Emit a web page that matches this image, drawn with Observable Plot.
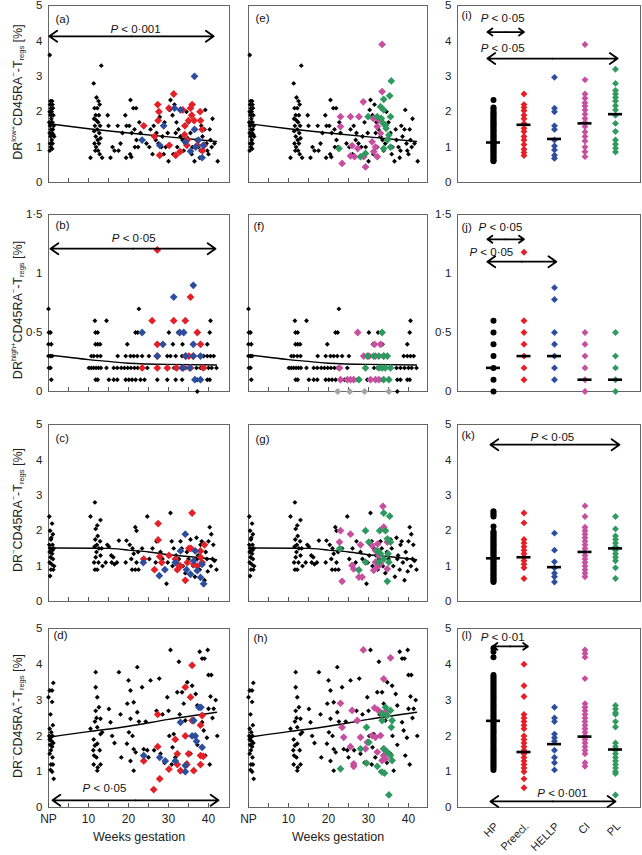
<!DOCTYPE html>
<html><head><meta charset="utf-8">
<script src="https://cdn.jsdelivr.net/npm/d3@7"></script>
<script src="https://cdn.jsdelivr.net/npm/@observablehq/plot@0.6"></script>
<style>
body{margin:0;background:#fff;font-family:"Liberation Sans",Arial,sans-serif;}
#root{position:relative;width:642px;height:855px;overflow:hidden;background:#fff;}
.ylab{position:absolute;white-space:nowrap;font-size:12.5px;color:#222;transform:translate(-50%,-50%) rotate(-90deg);}
.ylab sup{font-size:0.6em;vertical-align:0.75em;line-height:0;}
.ylab sub{font-size:0.6em;vertical-align:-0.3em;line-height:0;}
</style></head><body><div id="root"></div>
<script>
// ---------- scatter data: [week, value]  (NP plotted at week 0–1.5) ----------
const hpA = [[0.3,3.6],[0.5,2.3],[0.9,2.3],[0.4,2.2],[1.0,2.2],[0.6,2.1],[1.1,2.1],[0.3,2.0],[0.8,2.0],[0.5,1.9],[1.2,1.9],[0.2,1.7],[0.7,1.7],[1.0,1.7],[0.4,1.6],[1.3,1.6],[0.6,1.5],[1.1,1.5],[0.3,1.4],[0.9,1.4],[1.4,1.3],[0.5,1.3],[0.8,1.2],[0.4,1.1],[1.0,1.1],[0.6,1.0],[0.3,0.9],[0.9,0.95],[0.7,1.8],[1.2,1.35],
[11.3,2.8],[13.2,3.3],[12,2.4],[12.5,2.3],[12.8,2.2],[11.5,2.1],[12.2,2.1],[11.8,1.9],[12.6,1.9],[11.4,1.8],[12.0,1.75],[12.4,1.7],[11.6,1.6],[12.9,1.6],[12.2,1.5],[11.4,1.45],[12.7,1.4],[11.8,1.3],[12.3,1.2],[11.5,1.1],[12.6,1.1],[11.9,1.0],[12.4,0.9],[12.8,0.8],[10.5,0.7],[13.4,0.7],[11.7,0.9],[13.0,1.25],
[14.8,1.9],[15.5,0.7],[16,1.0],[16.5,0.9],[17.5,0.9],[17.3,1.6],[18.5,1.4],[19.2,1.9],[19.5,1.6],[19.4,0.7],[18.0,1.1],[15.0,1.6],
[20.5,2.33],[21.2,2.1],[21.9,2.1],[20.2,1.6],[21.5,1.5],[20.8,1.4],[22.0,1.2],[21.6,1.0],[20.4,0.8],[20.7,0.72],[22.4,1.0],[23.0,1.4],[22.7,1.7],
[25.5,1.5],[26.3,1.6],[27,1.4],[27.8,1.85],[26.8,1.2],[25.2,1.0],[28.2,1.0],[29.3,1.0],[26.0,0.8],[28.8,0.8],[30.0,0.6],[29.8,1.4],[30.3,2.05],[30.5,2.33],[28.5,1.3],[24.5,1.1],[29.0,1.7],[27.5,1.1],
[31.5,2.2],[31,1.9],[32,1.7],[32.5,1.5],[31.8,1.4],[33,1.3],[33.5,1.2],[32.2,1.0],[31.2,0.8],[33.8,0.9],[34.5,2.0],[35,1.7],[35.5,1.4],[34.2,1.1],[36,1.0],[35.8,0.8],[36.5,0.6],[37,1.2],[37.5,1.0],[38,0.9],[38.5,1.3],[39.2,2.05],[39,1.5],[39.5,1.1],[40,0.8],[40.3,1.5],[40.5,1.2],[41,1.8],[41.5,1.1],[42.3,0.6],[40.8,1.0],[38.2,1.6],[37.8,0.7],[39.7,0.9],[36.8,1.5],[34.8,1.25]];
const preA = [[23.8,1.6],[26.5,1.3],[27.3,2.2],[27.6,2.0],[27.4,1.75],[27.8,0.77],[30.1,2.1],[30.2,1.05],[31.3,2.5],[31.8,0.77],[32.9,0.87],[33.6,2.05],[34.1,1.6],[34.0,1.35],[34.6,1.05],[35.0,1.75],[35.5,2.1],[35.9,2.2],[35.8,1.9],[36.4,1.75],[37.2,1.05],[37.9,2.0],[38.0,1.75],[38.4,1.5],[38.5,0.9],[38.9,1.05],[34.7,1.2]];
const hellpA = [[23.4,1.2],[27.8,1.05],[28.8,1.6],[31.5,2.1],[33.0,2.05],[34.2,1.15],[36.5,3.0],[36.5,1.5],[35.5,0.88],[36.8,1.0],[38.4,0.7],[38.7,1.05],[37.5,1.2]];
const ciE = [[33.4,3.9],[33.4,2.57],[28.7,2.28],[23,1.86],[25.5,1.86],[27.6,1.86],[23,1.58],[31.2,1.81],[32.2,1.58],[33,1.39],[30.9,1.15],[25.9,1.04],[27.3,0.96],[31.75,1.0],[31.3,0.87],[32.2,0.73],[25.5,0.75],[26.5,0.73],[29.25,0.44],[23.4,0.54],[28.8,0.73],[32.6,1.76]];
const plE = [[35.7,2.87],[35.3,2.45],[33.8,2.35],[33,2.14],[33.8,2.05],[29.9,1.86],[32.2,1.86],[35.5,1.86],[33.7,1.67],[34.25,1.62],[34.4,1.53],[35.1,1.34],[34.7,1.2],[33.8,0.96],[35.5,1.0],[22.6,0.96],[29.25,0.82],[28,0.73],[33.2,1.81]];
const trendA = [[0,1.66],[10,1.52],[20,1.4],[30,1.29],[42,1.16]];

const hpB = [[0,0.7],[22.6,0.7],[11.6,0.6],[14.5,0.6],[40.5,0.6],
[0.1,0.5],[0.5,0.5],[11.75,0.5],[12.3,0.5],[21.75,0.5],[22.3,0.5],[40.3,0.5],[30.1,0.5],[32.4,0.5],
[0.0,0.4],[0.7,0.4],[11.75,0.4],[12.3,0.4],[12.9,0.4],[19.7,0.4],[39.7,0.4],[31.1,0.4],[33.5,0.4],
[0,0.3],[0.5,0.3],[0.9,0.3],[10.7,0.3],[11.3,0.3],[12.2,0.3],[13,0.3],[17.3,0.3],[19.3,0.3],[20.5,0.3],[21.3,0.3],[22.2,0.3],[23.4,0.3],[25.1,0.3],[29.7,0.3],[30.5,0.3],[31.8,0.3],[33.4,0.3],[38.8,0.3],[39.7,0.3],[40.5,0.3],[41.3,0.3],
[0.1,0.2],[0.5,0.2],[10.1,0.2],[10.7,0.2],[11.3,0.2],[11.9,0.2],[12.5,0.2],[13.1,0.2],[14.5,0.2],[16.3,0.2],[17.2,0.2],[18.2,0.2],[19.0,0.2],[19.8,0.2],[20.6,0.2],[21.5,0.2],[22.3,0.2],[24.7,0.2],[31.4,0.2],[32.2,0.2],[33.4,0.2],[34.3,0.2],[37.0,0.2],[38.0,0.2],[39.0,0.2],[40.0,0.2],[40.8,0.2],[42.0,0.2],
[0.7,0.1],[11.8,0.1],[12.3,0.1],[15.1,0.1],[16.3,0.1],[17.2,0.1],[19.3,0.1],[20.1,0.1],[20.9,0.1],[21.8,0.1],[23.0,0.1],[24.0,0.1],[27.2,0.1],[29.7,0.1],[31.8,0.1],[33.4,0.1],[37.2,0.1],[38.0,0.1],[39.7,0.1],[40.3,0.1],
[37.2,0]];
const preB = [[27.2,1.2],[35.5,0.8],[25.9,0.6],[31.3,0.6],[34.2,0.6],[37.2,0.5],[27.2,0.4],[38,0.4],[27.2,0.3],[34.3,0.3],[35.1,0.3],[36.2,0.3],[23.4,0.2],[27.2,0.2],[29.7,0.2],[32,0.2],[33.7,0.2],[35.5,0.2],[38.7,0.2]];
const hellpB = [[36.2,0.9],[31.3,0.8],[23.4,0.5],[32.8,0.5],[33.8,0.5],[28.6,0.4],[36.2,0.4],[27.2,0.3],[34.3,0.3],[36.2,0.3],[38,0.3],[33.4,0.2],[35.3,0.2],[36.6,0.1],[38,0.1]];
const ciF = [[27.3,0.5],[31.5,0.4],[33.0,0.4],[28.8,0.3],[30.1,0.3],[31.75,0.3],[33.8,0.3],[22.75,0.2],[23,0.1],[24.7,0.1],[25.5,0.1],[26.3,0.1],[30.5,0.1],[31.75,0.1],[32.6,0.1]];
const plF = [[33.4,0.5],[29.7,0.3],[31.3,0.3],[32.6,0.3],[33.8,0.3],[34.7,0.3],[29.25,0.2],[32.6,0.2],[33.4,0.2],[34.2,0.2],[35.5,0.2],[27.6,0.1],[33.8,0.1],[35.1,0.1]];
const greyF = [[22.3,0],[25.3,0],[29,0],[35.1,0]];
const trendB = [[0,0.31],[5,0.29],[10,0.27],[15,0.255],[20,0.24],[30,0.23],[42,0.225]];

const hpC = [[0.2,2.4],[0.9,2.2],[0.4,2.0],[1.1,1.9],[0.6,1.75],[0.2,1.6],[1.0,1.6],[0.5,1.5],[1.3,1.5],[0.3,1.4],[0.9,1.35],[0.5,1.25],[1.1,1.2],[0.3,1.1],[0.8,1.05],[1.4,1.0],[0.6,0.9],[1.2,0.9],[0.4,0.72],[0.7,1.8],[1.0,1.45],
[11.6,2.8],[10.5,2.4],[13,2.3],[12.2,2.15],[11.8,2.05],[12.3,1.85],[11.7,1.75],[12.9,1.7],[12.1,1.6],[11.5,1.55],[12.6,1.5],[12.0,1.4],[13.0,1.3],[11.8,1.25],[12.5,1.1],[11.4,1.1],[11.6,0.9],[12.2,0.9],[13.5,1.0],[14.3,1.1],[14.7,1.6],[13.3,1.5],[15.7,1.3],[16.5,1.05],
[17.6,1.72],[15.1,1.55],[16.2,1.25],[15.8,1.1],[17.1,1.1],[19.5,1.72],[21.7,2.1],[22.0,2.0],[20.3,1.6],[21.0,1.5],[22.4,1.4],[21.3,1.35],[20.7,1.2],[22.0,1.1],[20.9,0.9],[21.7,0.9],[22.5,0.9],[19.3,1.1],[24.7,2.4],[23.4,1.5],[25.2,1.2],
[30.5,2.5],[26.0,1.5],[27.0,1.7],[28.0,1.4],[28.5,1.2],[29.5,0.5],[29.8,1.1],[30.8,1.7],[31.3,1.5],[31.9,1.3],[32.3,0.9],[32.6,1.2],[33.3,1.5],[33.6,1.0],[34.2,0.8],[34.6,1.4],[35.0,1.2],[35.8,1.5],[36.2,1.0],[36.6,0.7],[37.0,1.8],[37.4,1.3],[37.8,0.9],[38.3,1.7],[38.6,1.1],[39.0,0.6],[39.3,1.4],[39.6,1.2],[40.0,1.7],[40.3,2.1],[40.6,1.0],[41.0,1.2],[41.5,1.15],[42.0,0.9],[39.8,0.85],[38.0,1.6],[37.2,1.2],[35.5,1.75],[33.0,1.7],[31.0,1.0],[30.2,1.3],[26.8,1.1],[40.7,1.9],[41.2,1.6]];
const preC = [[23.8,1.2],[26.5,0.9],[27.4,2.2],[27.4,1.74],[27.8,1.27],[30.1,1.3],[31.7,1.2],[32.2,0.9],[33.0,1.0],[34.2,0.6],[35.1,1.5],[35.6,1.5],[35.9,2.5],[34.7,1.1],[36.3,1.05],[37.2,1.0],[38.0,1.25],[38.4,1.1],[39.0,1.6],[38.0,1.43],[32.4,1.05],[28.3,1.1]];
const hellpC = [[23.7,1.1],[27.7,0.73],[29.1,0.9],[31.7,1.1],[33.0,1.43],[34.2,1.9],[34.5,0.9],[35.5,0.77],[36.7,1.43],[37.2,0.87],[38.0,0.68],[38.8,0.5],[36.3,1.15],[38.4,1.05]];
const ciG = [[33.6,2.69],[23,2.0],[25.5,1.9],[22.75,1.68],[28,1.6],[30.9,1.58],[32.3,1.63],[33.8,2.1],[34.7,1.68],[31.75,1.44],[32.6,1.3],[25.9,1.02],[26.3,0.92],[27.6,0.69],[28.4,0.69],[23.4,0.57],[31.75,1.11],[32.2,0.97],[33,1.06],[31.3,0.88],[34.7,0.92]];
const plG = [[33.8,2.5],[35.3,2.41],[29.25,2.0],[32.8,2.0],[34.25,2.0],[34.7,1.77],[35.5,1.68],[30.1,1.68],[22.8,1.49],[32.2,1.44],[33,1.35],[34.9,1.35],[29.25,1.11],[32.6,1.11],[35.1,1.11],[27.6,0.89],[34.7,0.57],[33.8,1.2]];
const trendC = [[0,1.51],[15,1.5],[20,1.45],[25,1.4],[30,1.32],[35,1.27],[42,1.18]];

const hpD = [[0,3.08],[0.3,3.27],[0.9,3.27],[1.2,3.48],[0.5,2.6],[0.9,2.95],[1.1,2.3],[0.3,2.2],[0.7,2.1],[0.2,2.0],[1.0,2.0],[0.5,1.95],[0.3,1.9],[0.8,1.85],[1.2,1.8],[0.4,1.75],[0.9,1.7],[0.6,1.6],[0.3,1.5],[1.0,1.4],[0.6,1.2],[1.1,1.2],[0.9,1.0],[1.3,0.8],[0.5,1.05],
[10.5,2.2],[11.8,3.78],[11.8,3.36],[12.2,3.08],[12.6,2.8],[11.8,2.7],[12.0,2.5],[11.6,2.4],[13.0,2.48],[12.2,2.24],[11.3,1.9],[11.6,1.73],[12.2,1.78],[11.2,1.6],[12.0,1.4],[11.3,1.2],[12.3,1.12],[12.2,1.03],[13.0,1.2],[11.4,1.45],[12.8,1.6],[13.0,2.05],[15.1,2.75],[15.5,2.38],[17.6,3.78],[15.9,2.0],[13.4,2.1],[16.5,1.8],[18,2.6],[18.2,1.4],
[20.0,3.55],[20.5,3.27],[21.3,2.94],[22.2,3.92],[19.7,2.9],[20.5,2.48],[20.1,2.1],[21.0,2.0],[19.6,1.78],[21.3,1.63],[21.8,1.54],[20.5,1.3],[21.3,1.03],[22.2,2.66],[22.6,2.4],[23.4,3.36],[23.8,1.63],[24.7,1.6],[25.5,3.55],[25.0,1.4],[26.4,1.6],[27.7,3.6],[28.5,2.6],[29.7,3.08],[30.5,4.4],[28.0,1.5],[29.0,1.25],[30.2,2.0],[27.0,2.7],[24.3,2.4],
[32.6,4.07],[32.2,3.22],[31.3,2.05],[31.0,1.68],[33.4,3.22],[33.8,2.9],[34.2,2.43],[34.7,3.5],[35.9,3.4],[36.8,3.17],[37.2,2.85],[37.8,4.35],[38.4,4.16],[39.0,4.16],[39.8,4.4],[40.0,3.7],[40.7,3.7],[40.5,3.1],[40.0,2.76],[41.3,2.76],[41.8,3.0],[42.2,2.0],[38.4,2.38],[38.8,2.15],[39.6,1.95],[37.2,1.75],[35.5,1.5],[34.6,1.25],[36.3,1.03],[33.0,1.0],[31.7,1.4],[30.8,1.2],[39.2,1.45],[40.3,1.2],[41.0,2.5],[36.0,2.0],[32.8,2.6],[30.0,2.7]];
const preD = [[26.3,0.5],[27.3,2.6],[27.3,1.7],[27.8,0.8],[23.8,1.3],[30.1,1.07],[31.7,1.9],[32.2,1.5],[32.2,1.2],[33.0,1.03],[34.2,3.36],[34.2,2.0],[35.0,1.5],[35.5,3.08],[35.9,3.97],[35.9,2.43],[38.0,1.2],[38.0,1.45],[38.7,1.43],[38.4,2.57],[38.0,2.3],[36.3,1.03],[34.6,1.2]];
const hellpD = [[23.8,1.45],[27.8,1.4],[29.2,1.3],[31.7,1.3],[33.0,2.38],[34.2,1.17],[34.2,1.0],[36.3,2.43],[36.7,2.0],[37.6,2.8],[38.1,2.8],[38.4,1.68],[35.9,2.0],[37.0,1.85]];
const ciH = [[28.7,4.4],[35.5,4.18],[33.8,3.59],[23,2.91],[25.9,2.71],[27.2,2.43],[31.5,2.78],[32.3,2.73],[33,2.66],[34.4,2.69],[23.4,2.24],[23.8,1.96],[28,1.96],[30.9,2.01],[31.75,1.96],[33,2.01],[29.7,1.82],[25.5,1.7],[29.25,1.64],[32.2,1.55],[33.8,1.64],[33.8,1.45],[34.25,1.36],[26.3,1.22],[26.3,1.15],[33.4,1.31]];
const plH = [[34.25,2.8],[35.5,2.71],[33.4,2.62],[34.7,2.57],[33.4,2.43],[35.9,2.43],[29.5,2.24],[35.7,2.24],[30.1,1.82],[28,1.64],[33.8,1.64],[34.7,1.55],[35.5,1.45],[35.9,1.31],[29.5,1.24],[32.2,1.15],[23,1.08],[33.4,0.99],[34,0.96],[35.1,0.35]];
const trendD = [[0,1.96],[10,2.12],[20,2.27],[30,2.46],[42,2.66]];

// ---------- group data (column 3) ----------
const groups = ["HP","Preecl.","HELLP","CI","PL"];
const iHP = [2.33,2.12,2.08,2.03,1.98,1.95,1.9,1.86,1.82,1.78,1.74,1.7,1.67,1.63,1.6,1.56,1.52,1.48,1.45,1.41,1.37,1.33,1.3,1.26,1.22,1.18,1.15,1.12,1.08,1.05,1.01,0.98,0.94,0.9,0.86,0.83,0.79,0.75,0.71,0.67,0.63,0.6];
const iPre = [2.5,2.2,2.12,2.03,1.9,1.8,1.67,1.53,1.44,1.3,1.2,1.07,0.94,0.85,0.76];
const iHELLP = [2.97,2.1,2.0,1.6,1.5,1.2,1.03,0.92,0.77,0.68];
const iCI = [3.9,2.9,2.5,2.38,2.25,2.16,2.05,1.93,1.81,1.7,1.58,1.43,1.3,1.17,1.0,0.87,0.73];
const iPL = [3.2,2.8,2.6,2.5,2.4,2.3,2.17,2.05,1.9,1.67,1.44,1.2,1.08,0.97,0.86];
const iMedian = [1.13,1.63,1.23,1.67,1.93];

const jHP = [0.6,0.5,0.4,0.3,0.2,0.1,0.0];
const jPre = [1.18,0.6,0.5,0.4,0.3,0.2,0.1];
const jHELLP = [0.88,0.78,0.5,0.4,0.3,0.2,0.1];
const jCI = [0.5,0.4,0.3,0.2,0.1,0.0];
const jPL = [0.5,0.3,0.2,0.1,0.0];
const jMedian = [0.2,0.3,0.3,0.1,0.1];

const kHP = [2.55,2.5,2.45,2.4,2.12,1.98,1.94,1.9,1.86,1.82,1.78,1.74,1.7,1.66,1.62,1.58,1.54,1.5,1.46,1.42,1.38,1.34,1.3,1.26,1.22,1.18,1.14,1.1,1.06,1.02,0.98,0.94,0.9,0.86,0.82,0.78,0.74,0.7,0.66,0.62,0.58,0.55];
const kPre = [2.5,2.22,1.75,1.65,1.55,1.45,1.35,1.25,1.15,1.05,0.95,0.65];
const kHELLP = [1.93,1.45,1.12,0.95,0.8,0.7,0.55];
const kCI = [2.7,2.4,2.1,2.0,1.9,1.8,1.7,1.6,1.5,1.4,1.3,1.2,1.1,1.0,0.9,0.8,0.7];
const kPL = [2.4,2.05,1.85,1.75,1.65,1.55,1.45,1.35,1.25,1.15,0.95,0.65];
const kMedian = [1.22,1.25,0.97,1.4,1.5];

const lHP = [4.45,4.35,4.2,3.7,3.65,3.6,3.55,3.5,3.45,3.4,3.35,3.3,3.25,3.2,3.15,3.1,3.05,3.0,2.95,2.9,2.85,2.8,2.75,2.7,2.65,2.6,2.55,2.5,2.45,2.4,2.35,2.3,2.25,2.2,2.15,2.1,2.05,2.0,1.95,1.9,1.85,1.8,1.75,1.7,1.65,1.6,1.55,1.5,1.45,1.4,1.35,1.3,1.25,1.2,1.15,1.1,1.05];
const lPre = [4.0,3.4,3.1,2.6,2.5,2.4,2.3,2.2,2.0,1.9,1.8,1.7,1.6,1.5,1.4,1.3,1.2,1.1,1.0,0.8,0.55];
const lHELLP = [2.8,2.5,2.4,2.05,1.95,1.85,1.6,1.4,1.25,1.05];
const lCI = [4.4,4.3,4.2,3.6,2.9,2.8,2.7,2.6,2.5,2.4,2.3,2.2,2.1,2.0,1.9,1.8,1.7,1.6,1.5,1.25,1.15];
const lPL = [2.85,2.75,2.65,2.6,2.4,2.25,1.8,1.7,1.6,1.5,1.4,1.3,1.2,1.1,1.0,0.95,0.35];
const lMedian = [2.42,1.55,1.77,1.98,1.62];

// ---------- significance brackets ----------
const arrowsA = [{x1:0.2,x2:41.3,y:4.13,tx:21.75,ty:4.33,t:"P < 0·001"}];
const arrowsB = [{x1:0.5,x2:41.75,y:1.21,tx:21.3,ty:1.30,t:"P < 0·05"}];
const arrowsD = [{x1:1,x2:42.5,y:0.2,tx:14,ty:0.53,t:"P < 0·05"}];
const arrowsI = [{x1:0.8,x2:2.0,y:4.25,tx:1.3,ty:4.64,t:"P < 0·05"},{x1:0.8,x2:5.07,y:3.5,tx:1.3,ty:3.8,t:"P < 0·05"}];
const arrowsJ = [{x1:0.8,x2:2.0,y:1.29,tx:1.23,ty:1.39,t:"P < 0·05"},{x1:0.8,x2:3.06,y:1.10,tx:0.93,ty:1.18,t:"P < 0·05"}];
const arrowsK = [{x1:0.9,x2:5.13,y:4.43,tx:2.93,ty:4.63,t:"P < 0·05"}];
const arrowsL = [{x1:0.97,x2:2.13,y:4.5,tx:1.3,ty:4.76,t:"P < 0·01"},{x1:0.9,x2:5.0,y:0.17,tx:3.26,ty:0.4,t:"P < 0·001"}];

const weekTicks = [0,5,10,15,20,25,30,35,40];
const weekLabels = [{v:0,t:"NP"},{v:10,t:"10"},{v:20,t:"20"},{v:30,t:"30"},{v:40,t:"40"}];

// ---------- layout ----------
const FONT = '"Liberation Sans", Arial, sans-serif';
const RED="#e51f27", BLUE="#2d4e9c", PINK="#c74f9f", GREEN="#2f9a5f", GREY="#a3a3a3";
const groupColors = ["black",RED,BLUE,PINK,GREEN];
const cols = [{l:48,r:229,dom:[0,45.25]},{l:248,r:427,dom:[0,44.75]},{l:457,r:640,dom:[-0.18,5.82]}];
const rows = [{t:5,b:182,ymax:5,ticks:[0,1,2,3,4,5]},{t:214,b:391,ymax:1.5,ticks:[0,0.5,1,1.5]},{t:424,b:601,ymax:5,ticks:[0,1,2,3,4,5]},{t:628,b:807,ymax:5,ticks:[0,1,2,3,4,5]}];
const fmt = d => String(d).replace(".", "·");
const root = document.getElementById("root");

function arrowMarks(arr){
  return [
    Plot.arrow(arr,{x1:d=>(d.x1+d.x2)/2,x2:d=>d.x1,y1:"y",y2:"y",stroke:"black",strokeWidth:1.8,headLength:8,headAngle:70}),
    Plot.arrow(arr,{x1:d=>(d.x1+d.x2)/2,x2:d=>d.x2,y1:"y",y2:"y",stroke:"black",strokeWidth:1.8,headLength:8,headAngle:70}),
    Plot.text(arr,{x:"tx",y:"ty",text:"t",fontSize:11.5,fill:"#111"})
  ];
}

function panel(ci,ri,marks,letter,ldx,ldy,showY){
  const c=cols[ci], r=rows[ri];
  const ML=40,MR=12,MT=12,MB=60;
  const w=c.r-c.l, h=r.b-r.t;
  const all=[Plot.frame({stroke:"#666",strokeWidth:1})];
  if(showY) all.push(Plot.axisY(r.ticks,{tickSize:0,tickPadding:6,fontSize:11.5,tickFormat:fmt,fill:"#222"}));
  all.push(...marks);
  all.push(Plot.text([letter],{frameAnchor:"top-left",textAnchor:"start",lineAnchor:"middle",dx:ldx,dy:ldy,fontSize:11.5,fill:"#111"}));
  const svg=Plot.plot({width:w+ML+MR,height:h+MT+MB,marginLeft:ML,marginRight:MR,marginTop:MT,marginBottom:MB,
    x:{domain:c.dom,axis:null},y:{domain:[0,r.ymax],axis:null},
    style:{background:"transparent",overflow:"visible",fontFamily:FONT,color:"#111"},marks:all});
  svg.style.position="absolute"; svg.style.left=(c.l-ML)+"px"; svg.style.top=(r.t-MT)+"px";
  svg.querySelectorAll("text").forEach(el=>{
    const s=el.textContent;
    if(s.startsWith("P <")){
      el.textContent="";
      const ns="http://www.w3.org/2000/svg";
      const t1=document.createElementNS(ns,"tspan"); t1.setAttribute("font-style","italic"); t1.textContent="P";
      el.appendChild(t1); el.appendChild(document.createTextNode(s.slice(1)));
    }
  });
  root.appendChild(svg);
}

function scatterMarks(ri,black,c1,col1,c2,col2,trend,bottom,h){
  const m=[Plot.tickX(weekTicks,{x:d=>d,stroke:"#555",insetTop:h-4})];
  m.push(Plot.dot(black,{x:d=>d[0],y:d=>d[1],symbol:"diamond2",r:2.2,fill:"black"}));
  m.push(Plot.line(trend,{x:d=>d[0],y:d=>d[1],stroke:"black",strokeWidth:1.4,curve:"natural"}));
  m.push(Plot.dot(c1,{x:d=>d[0],y:d=>d[1],symbol:"diamond2",r:3.5,fill:col1}));
  m.push(Plot.dot(c2,{x:d=>d[0],y:d=>d[1],symbol:"diamond2",r:3.5,fill:col2}));
  if(bottom){
    m.push(Plot.text(weekLabels,{x:"v",text:"t",frameAnchor:"bottom",dy:15,fontSize:12,fill:"#222"}));
    m.push(Plot.text(["Weeks gestation"],{frameAnchor:"bottom",dy:33,fontSize:12.5,fill:"#222"}));
  }
  return m;
}

function groupMarks(vals,med,bottom){
  const m=[];
  vals.forEach((arr,g)=>{
    m.push(Plot.dot(arr,{x:()=>g+1,y:d=>d,symbol:g===0?"circle":"diamond2",r:g===0?3:3.1,fill:groupColors[g]}));
  });
  const meds=med.map((v,g)=>({g:g+1,v}));
  m.push(Plot.ruleY(meds,{y:"v",x1:d=>d.g-0.23,x2:d=>d.g+0.23,stroke:"black",strokeWidth:2.6}));
  if(bottom){
    m.push(Plot.text(groups.map((t,g)=>({g:g+1,t})),{x:"g",text:"t",frameAnchor:"bottom",rotate:-45,textAnchor:"end",lineAnchor:"middle",dx:3,dy:17,fontSize:11,fill:"#222"}));
  }
  return m;
}

const H = r => rows[r].b-rows[r].t;
// column 1
panel(0,0,[...scatterMarks(0,hpA,preA,RED,hellpA,BLUE,trendA,false,H(0)),...arrowMarks(arrowsA)],"(a)",7,14,true);
panel(0,1,[...scatterMarks(1,hpB,preB,RED,hellpB,BLUE,trendB,false,H(1)),...arrowMarks(arrowsB)],"(b)",7,11,true);
panel(0,2,scatterMarks(2,hpC,preC,RED,hellpC,BLUE,trendC,false,H(2)),"(c)",7,14,true);
panel(0,3,[...scatterMarks(3,hpD,preD,RED,hellpD,BLUE,trendD,true,H(3)),...arrowMarks(arrowsD)],"(d)",5,7,true);
// column 2
panel(1,0,scatterMarks(0,hpA,ciE,PINK,plE,GREEN,trendA,false,H(0)),"(e)",7,13,false);
panel(1,1,[...scatterMarks(1,hpB,ciF,PINK,plF,GREEN,trendB,false,H(1)),Plot.dot(greyF,{x:d=>d[0],y:d=>d[1],symbol:"diamond2",r:3.2,fill:GREY})],"(f)",5,12,false);
panel(1,2,scatterMarks(2,hpC,ciG,PINK,plG,GREEN,trendC,false,H(2)),"(g)",7,15,false);
panel(1,3,scatterMarks(3,hpD,ciH,PINK,plH,GREEN,trendD,true,H(3)),"(h)",5,10,false);
// column 3
panel(2,0,[...groupMarks([iHP,iPre,iHELLP,iCI,iPL],iMedian,false),...arrowMarks(arrowsI)],"(i)",4,10,true);
panel(2,1,[...groupMarks([jHP,jPre,jHELLP,jCI,jPL],jMedian,false),...arrowMarks(arrowsJ)],"(j)",4,13,true);
panel(2,2,[...groupMarks([kHP,kPre,kHELLP,kCI,kPL],kMedian,false),...arrowMarks(arrowsK)],"(k)",4,11,true);
panel(2,3,[...groupMarks([lHP,lPre,lHELLP,lCI,lPL],lMedian,true),...arrowMarks(arrowsL)],"(l)",4,7,true);

// y-axis titles
const ylabs = [
  {y:92, html:'DR<sup>low+</sup>CD45RA<sup>−</sup>-T<sub>regs</sub> [%]'},
  {y:310,html:'DR<sup>high+</sup>CD45RA<sup>−</sup>-T<sub>regs</sub> [%]'},
  {y:510,html:'DR<sup>−</sup>CD45RA<sup>−</sup>-T<sub>regs</sub> [%]'},
  {y:716,html:'DR<sup>−</sup>CD45RA<sup>+</sup>-T<sub>regs</sub> [%]'}
];
ylabs.forEach(l=>{const d=document.createElement("div");d.className="ylab";d.style.left="18px";d.style.top=l.y+"px";d.innerHTML=l.html;root.appendChild(d);});
</script></body></html>
